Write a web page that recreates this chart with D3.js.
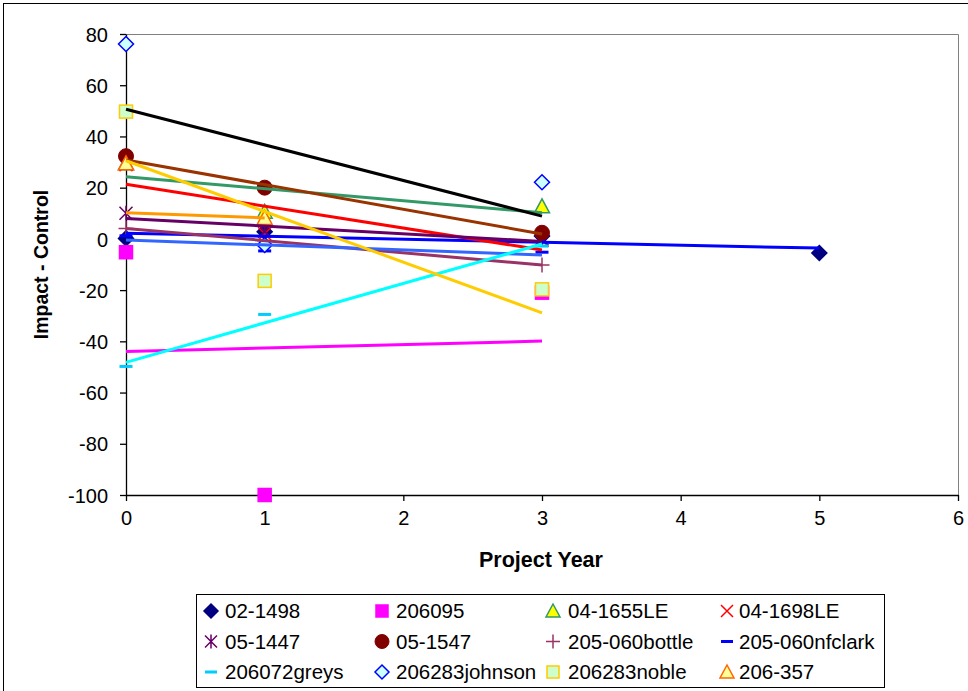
<!DOCTYPE html>
<html>
<head>
<meta charset="utf-8">
<script src="https://cdn.jsdelivr.net/npm/d3@7/dist/d3.min.js"></script>
<style>
  html, body { margin: 0; padding: 0; background: #fff; }
  svg { display: block; font-family: "Liberation Sans", Arial, sans-serif; }
</style>
</head>
<body>
<svg id="chart" width="968" height="691"></svg>
<script>
// Sites, in legend order
const seriesNames = [
  "02-1498", "206095", "04-1655LE", "04-1698LE",
  "05-1447", "05-1547", "205-060bottle", "205-060nfclark",
  "206072greys", "206283johnson", "206283noble", "206-357"
];

// Observed impact - control differences per project year, [year, value]
const site0214 = [[0, 0.2], [1, 2.8], [3, 1.1], [5, -5.5]];
const site206095 = [[0, -5.2], [1, -100], [3, -21]];
const site041655 = [[0, 29.5], [1, 10.6], [3, 12.7]];
const site041698 = [[0, 29], [1, 2], [3, -0.5]];
const site051447 = [[0, 10], [1, 3], [3, 0]];
const site051547 = [[0, 32.3], [1, 20], [3, 2.4]];
const siteBottle = [[0, 4.1], [1, -0.7], [3, -10.2]];
const siteNfclark = [[0, 1.2], [1, -4.7], [3, -5.2]];
const siteGreys = [[0, -49.8], [1, -29.5], [3, -2.8]];
const siteJohnson = [[0, 76.1], [1, -2.4], [3, 22.1]];
const siteNoble = [[0, 49.7], [1, -16.4], [3, -19.7]];
const site206357 = [[0, 29.5], [1, 8.2]];

const seriesPoints = [
  site0214, site206095, site041655, site041698, site051447, site051547,
  siteBottle, siteNfclark, siteGreys, siteJohnson, siteNoble, site206357
];

// Linear trend lines: start and end [year, value]
const trendStart = [
  [0, 2.2], [0, -44], [0, 24.3], [0, 21.3], [0, 8], [0, 30.8],
  [0, 4.1], [0, -0.4], [0, -48.2], [0, 50.6], [0, 30.5], [0, 10.2]
];
const trendEnd = [
  [5, -3.6], [3, -39.9], [3, 10.2], [3, -4.3], [3, -1], [3, 1.9],
  [3, -10.2], [3, -6.3], [3, -2], [3, 8.9], [3, -28.9], [1, 8.2]
];

// Axis ticks
const xTicks = [0, 1, 2, 3, 4, 5, 6];
const yTicks = [-100, -80, -60, -40, -20, 0, 20, 40, 60, 80];

// Marker and trend line styling per site
const markerShape = ["diamond", "square", "triangle", "x", "star", "circle", "plus", "dash", "dash", "diamond", "square", "triangle"];
const markerFill = ["#000080", "#FF00FF", "#FFFF00", "none", "none", "#800000", "none", "none", "none", "#CCFFFF", "#CCFFCC", "#FFFF99"];
const markerStroke = ["#000080", "#FF00FF", "#339966", "#FF0000", "#660066", "#800000", "#993366", "#0000FF", "#00CCFF", "#0000FF", "#FFCC00", "#FF6600"];
const trendColor = ["#0000FF", "#FF00FF", "#339966", "#FF0000", "#660066", "#993300", "#993366", "#3366FF", "#00FFFF", "#000000", "#FFCC00", "#FF9900"];

const svg = d3.select("#chart");

// Chart area frame
svg.append("rect").attr("x", 3.5).attr("y", 3.5).attr("width", 990).attr("height", 720)
  .attr("fill", "#fff").attr("stroke", "#000").attr("stroke-width", 1);

const plotLeft = 126, plotRight = 958, plotTop = 34, plotBottom = 495;
const x = d3.scaleLinear().domain([0, 6]).range([plotLeft, plotRight]);
const y = d3.scaleLinear().domain([-100, 80]).range([plotBottom, plotTop]);

// Plot area border (top and right)
svg.append("path")
  .attr("d", `M${plotLeft},${plotTop + 0.5}H${plotRight + 0.5}V${plotBottom}`)
  .attr("fill", "none").attr("stroke", "#808080").attr("stroke-width", 1);

// Axes
const xAxis = d3.axisBottom(x).tickValues(xTicks).tickSize(6).tickSizeOuter(0).tickPadding(10).tickFormat(d3.format("d"));
const yAxis = d3.axisLeft(y).tickValues(yTicks).tickSize(6).tickSizeOuter(0).tickPadding(12).tickFormat(d => d < 0 ? "-" + Math.abs(d) : d);

const gx = svg.append("g").attr("transform", `translate(0,${y(-100)})`).call(xAxis);
const gy = svg.append("g").attr("transform", `translate(${x(0)},0)`).call(yAxis);
[gx, gy].forEach(g => {
  g.selectAll("path, line").attr("stroke", "#000").attr("stroke-width", 1.3);
  g.selectAll("text").attr("font-size", 20).attr("fill", "#000")
    .attr("font-family", "'Liberation Sans', Arial, sans-serif");
});
gy.selectAll("text").attr("dy", "0.36em");

// Axis titles
svg.append("text").attr("x", 541).attr("y", 567)
  .attr("text-anchor", "middle").attr("font-size", 21.5).attr("font-weight", "bold")
  .text("Project Year");
svg.append("text").attr("transform", `translate(48,${(plotTop + plotBottom) / 2}) rotate(-90)`)
  .attr("text-anchor", "middle").attr("font-size", 19.5).attr("font-weight", "bold")
  .text("Impact - Control");

// Marker symbol drawing
function drawMarker(g, shape, fill, stroke, s) {
  const h = s / 2;
  if (shape === "diamond") {
    g.append("path").attr("d", `M0,${-h - 1}L${h + 1},0L0,${h + 1}L${-h - 1},0Z`)
      .attr("fill", fill).attr("stroke", stroke).attr("stroke-width", 1.5);
  } else if (shape === "square") {
    g.append("rect").attr("x", -h).attr("y", -h).attr("width", s).attr("height", s)
      .attr("fill", fill).attr("stroke", stroke).attr("stroke-width", 1.5);
  } else if (shape === "triangle") {
    g.append("path").attr("d", `M0,${-h - 1}L${h + 1},${h}L${-h - 1},${h}Z`)
      .attr("fill", fill).attr("stroke", stroke).attr("stroke-width", 1.5);
  } else if (shape === "circle") {
    g.append("circle").attr("r", h + 1).attr("fill", fill).attr("stroke", stroke);
  } else if (shape === "x") {
    g.append("path").attr("d", `M${-h},${-h}L${h},${h}M${-h},${h}L${h},${-h}`)
      .attr("stroke", stroke).attr("stroke-width", 1.5).attr("fill", "none");
  } else if (shape === "star") {
    g.append("path").attr("d", `M${-h},${-h}L${h},${h}M${-h},${h}L${h},${-h}M0,${-h - 1}V${h + 1}`)
      .attr("stroke", stroke).attr("stroke-width", 1.5).attr("fill", "none");
  } else if (shape === "plus") {
    g.append("path").attr("d", `M${-h - 1},0H${h + 1}M0,${-h - 1}V${h + 1}`)
      .attr("stroke", stroke).attr("stroke-width", 1.5).attr("fill", "none");
  } else if (shape === "dash") {
    g.append("path").attr("d", `M${-h},0H${h}`)
      .attr("stroke", stroke).attr("stroke-width", 3).attr("fill", "none");
  }
}

// Data markers
const plot = svg.append("g");
seriesPoints.forEach((pts, i) => {
  pts.forEach(p => {
    const g = plot.append("g").attr("transform", `translate(${x(p[0])},${y(p[1])})`);
    drawMarker(g, markerShape[i], markerFill[i], markerStroke[i], 13);
  });
});

// Trend lines
const line = d3.line().x(d => x(d[0])).y(d => y(d[1]));
seriesNames.forEach((name, i) => {
  plot.append("path").attr("d", line([trendStart[i], trendEnd[i]]))
    .attr("stroke", trendColor[i]).attr("stroke-width", 3).attr("fill", "none");
});

// Legend
const legend = svg.append("g");
legend.append("rect").attr("x", 196.5).attr("y", 594.5).attr("width", 688).attr("height", 93)
  .attr("fill", "#fff").attr("stroke", "#000").attr("stroke-width", 1);
const colMarkerX = [211, 382, 553, 727];
const colTextX = [225, 396, 568, 739];
const rowY = [611, 641.5, 672];
seriesNames.forEach((name, i) => {
  const c = i % 4, r = Math.floor(i / 4);
  const g = legend.append("g").attr("transform", `translate(${colMarkerX[c]},${rowY[r]})`);
  drawMarker(g, markerShape[i], markerFill[i], markerStroke[i], 12);
  legend.append("text").attr("x", colTextX[c]).attr("y", rowY[r]).attr("dy", "0.36em")
    .attr("font-size", 20.5).attr("fill", "#000").text(name);
});
</script>
</body>
</html>
